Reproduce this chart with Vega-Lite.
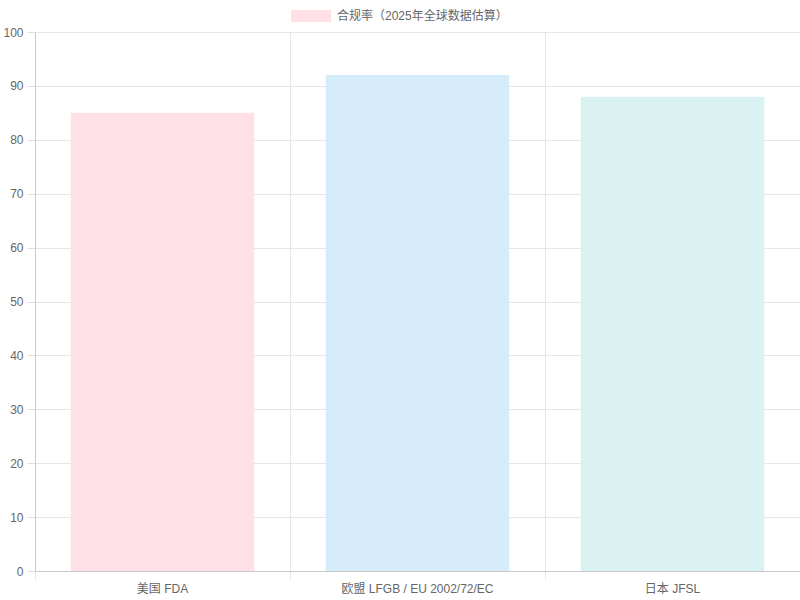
{
  "$schema": "https://vega.github.io/schema/vega-lite/v6.json",
  "width": 765,
  "height": 539,
  "autosize": "none",
  "padding": {"left": 35, "top": 32, "right": 0, "bottom": 29},
  "data": {
    "values": [
      {"region": "美国 FDA", "rate": 85},
      {"region": "欧盟 LFGB / EU 2002/72/EC", "rate": 92},
      {"region": "日本 JFSL", "rate": 88}
    ]
  },
  "encoding": {
    "x": {
      "field": "region",
      "type": "nominal",
      "sort": null,
      "scale": {"paddingInner": 0, "paddingOuter": 0},
      "axis": {
        "title": null,
        "bandPosition": 0,
        "labelAngle": 0,
        "grid": true,
        "gridColor": "#e6e6e6",
        "tickSize": 8,
        "tickColor": "#e6e6e6",
        "domainColor": "#c8c8c8",
        "labelFontSize": 12,
        "labelColor": "#666666",
        "labelPadding": 4,
        "labelFont": "Liberation Sans, Noto Sans CJK SC, sans-serif"
      }
    },
    "y": {
      "field": "rate",
      "type": "quantitative",
      "scale": {"domain": [0, 100]},
      "axis": {
        "title": null,
        "values": [0, 10, 20, 30, 40, 50, 60, 70, 80, 90, 100],
        "grid": true,
        "gridColor": "#e6e6e6",
        "tickSize": 8,
        "tickColor": "#e0e0e0",
        "domainColor": "#c8c8c8",
        "labelFontSize": 12,
        "labelColor": "#666666",
        "labelPadding": 4,
        "labelFont": "Liberation Sans, Noto Sans CJK SC, sans-serif"
      }
    }
  },
  "layer": [
    {
      "mark": {"type": "bar", "width": {"band": 0.72}},
      "encoding": {
        "fill": {
          "field": "region",
          "type": "nominal",
          "sort": null,
          "scale": {
            "domain": ["美国 FDA", "欧盟 LFGB / EU 2002/72/EC", "日本 JFSL"],
            "range": ["#FFE0E6", "#D7ECFB", "#DBF2F2"]
          },
          "legend": null
        }
      }
    },
    {
      "mark": {"type": "bar", "width": {"band": 0.72}, "opacity": 0},
      "encoding": {
        "fill": {
          "datum": "合规率（2025年全球数据估算）",
          "type": "nominal",
          "scale": {"range": ["#FFE0E6"]},
          "legend": {
            "title": null,
            "orient": "none",
            "legendX": 256,
            "legendY": -36,
            "padding": 0,
            "symbolType": "M-1,-0.3H1V0.3H-1Z",
            "symbolSize": 1600,
            "symbolOpacity": 1,
            "symbolStrokeWidth": 0,
            "labelFontSize": 12,
            "labelColor": "#666666",
            "labelOffset": 6,
            "labelLimit": 400,
            "labelFont": "Liberation Sans, Noto Sans CJK SC, sans-serif"
          }
        }
      }
    }
  ],
  "resolve": {"scale": {"fill": "independent"}},
  "config": {
    "view": {"stroke": null},
    "font": "Liberation Sans, Noto Sans CJK SC, sans-serif"
  }
}
